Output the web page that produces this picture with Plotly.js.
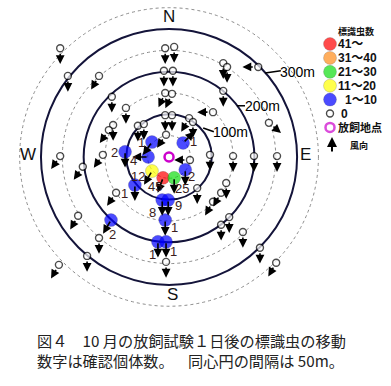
<!DOCTYPE html>
<html><head><meta charset="utf-8">
<script src="https://cdn.plot.ly/plotly-3.0.1.min.js"></script>
<style>html,body{margin:0;padding:0;background:#fff}#chart{width:391px;height:386px}</style>
</head><body><div id="chart"></div>
<script>
// trap positions (m, east / north of release point), marked insects found, wind arrow bearing (deg)
const trapX = [-9,12,-12,9,-9,7,-9,7,-7,47,56,33,103,127,127,136,209,234,
  -255,-237,-164,-134,-101,-131,-141,-73,-59,-40,
  -255,-155,-103,-49,-202,-124,-136,-213,-164,-192,-258,-80,
  -40,-14,12,38,49,
  -16,-2,-9,-26,-7,-7,
  96,150,199,253,66,134,122,103,141,122,173,213,251];
const trapY = [255,258,202,202,150,148,98,98,52,91,82,33,105,155,220,211,211,80,
  255,190,190,141,115,75,63,73,77,35,
  2,5,12,0,-23,-84,-148,-138,-190,-232,-253,-66,
  -33,-49,-49,-30,-7,
  -101,-101,-148,-199,-199,-246,
  5,2,2,2,-73,-61,-84,-105,-141,-159,-176,-213,-248];
const trapCount = [0,0,0,0,0,0,0,0,0,0,0,1,0,0,0,0,0,0,
  0,0,0,0,0,0,0,0,0,1,
  0,0,2,4,0,0,2,0,0,0,0,1,
  12,45,25,2,0,
  8,9,1,1,1,0,
  0,0,0,0,0,0,0,0,0,0,0,0,0];
const arrowDir = [180,180,180,180,205,205,180,180,215,210,180,45,270,180,180,180,270,130,
  180,180,210,180,180,180,215,180,180,215,
  215,215,180,270,215,215,210,210,180,180,210,180,
  210,200,180,180,270,
  180,180,180,180,180,180,
  180,180,180,180,180,180,210,210,180,180,180,180,210];
// label offsets in pixels (style only): index -> [dx, dy]
const labelShift = {11:[10,-1],27:[-10,0],30:[-11,1],31:[-15,4],34:[2,14],
  39:[-10,8],40:[-14,5],41:[-8,9],42:[8,11],43:[6,7],
  45:[-10,12],46:[10,5],47:[9,7],48:[-5,13],49:[7,10]};
const ringRadii = [50,100,150,200,250,300,350];
const ringLabels = ['100m','200m','300m'];
const legendLabels = ['41～','31～40','21～30','11～20','1～10','0','放飼地点'];
const legendColors = ['#ff0000','#ff8c1a','#11dd11','#ffff00','#0000ff','#ffffff','#ffffff'];

function colorFor(c){
  if(c>=41) return '#ff0000';
  if(c>=31) return '#ff8c1a';
  if(c>=21) return '#11dd11';
  if(c>=11) return '#ffff00';
  if(c>=1) return '#0000ff';
  return '#ffffff';
}

const ARROW_LEN = 37;
const shapes = ringRadii.map(r => ({
  type:'circle', xref:'x', yref:'y', x0:-r, x1:r, y0:-r, y1:r, layer:'below',
  line: (r%100===0) ? {color:'#14143a', width:2} : {color:'#8c8c8c', width:1, dash:'dot'}
}));
[[225,197,262,202],[159,120,178,120],[80,68,105,59]].forEach(l=>{
  shapes.push({type:'line',xref:'x',yref:'y',x0:l[0],y0:l[1],x1:l[2],y1:l[3],line:{color:'#000',width:1.5}});
});

const annotations = [];
trapX.forEach((x,i)=>{
  const b = arrowDir[i]*Math.PI/180;
  annotations.push({xref:'x',yref:'y',axref:'x',ayref:'y',
    ax:x, ay:trapY[i], x:x+ARROW_LEN*Math.sin(b), y:trapY[i]+ARROW_LEN*Math.cos(b),
    text:'', showarrow:true, arrowhead:2, arrowsize:1.1, arrowwidth:1.6, arrowcolor:'#000',
    startstandoff: trapCount[i]===0 ? 4 : 0, standoff:0});
});
trapCount.forEach((c,i)=>{
  if(c>0){
    const s = labelShift[i]||[10,0];
    annotations.push({xref:'x',yref:'y',x:trapX[i],y:trapY[i],xshift:s[0],yshift:-s[1],
      text:String(c),showarrow:false,borderpad:0,
      font:{family:'Liberation Sans, Arial',size:13,color:'#3a1c1c'}});
  }
});
const compass = [['N',0,330],['S',9,-323],['E',319,5],['W',-330,5]];
compass.forEach(c=>annotations.push({xref:'x',yref:'y',x:c[1],y:c[2],text:c[0],showarrow:false,
  font:{family:'Liberation Sans, Arial',size:17,color:'#111'}}));
const ringLabelPos = [[145,59],[218,120],[300,199]];
ringLabels.forEach((t,i)=>annotations.push({xref:'x',yref:'y',x:ringLabelPos[i][0],y:ringLabelPos[i][1],
  text:t,showarrow:false,font:{family:'Liberation Sans, Arial',size:14,color:'#000'}}));

// legend (pixel-coordinate overlay axis)
const legY = legendLabels.map((_,i)=>44+13.9*i);
annotations.push({xref:'x2',yref:'y2',x:356,y:31,text:'<b>標識虫数</b>',showarrow:false,
  font:{family:'Noto Sans CJK JP',size:9,color:'#111'}});
legendLabels.forEach((t,i)=>{
  let x = 336; if(i===4) x=343; if(i===5) x=339;
  annotations.push({xref:'x2',yref:'y2',x:x,y:legY[i],xanchor:'left',text:'<b>'+t+'</b>',showarrow:false,
    font:{family:'Liberation Sans, Noto Sans CJK JP',size:i===6?11:12,color:'#111'}});
});
annotations.push({xref:'x2',yref:'y2',axref:'x2',ayref:'y2',ax:332,ay:153,x:332,y:137,text:'',
  showarrow:true,arrowhead:2,arrowsize:1,arrowwidth:2,arrowcolor:'#000'});
annotations.push({xref:'x2',yref:'y2',x:348,y:145,xanchor:'left',text:'<b>風向</b>',showarrow:false,
  font:{family:'Noto Sans CJK JP',size:9,color:'#111'}});

// caption
annotations.push({xref:'paper',yref:'paper',x:35/391,y:1-349.5/386,xanchor:'left',yanchor:'middle',align:'left',
  text:'図４　10 月の放飼試験１日後の標識虫の移動<br>数字は確認個体数。　  同心円の間隔は 50m。',showarrow:false,
  font:{family:'Noto Sans CJK JP',size:15.2,color:'#222'}});

const traps = {
  type:'scatter', mode:'markers', x:trapX, y:trapY, xaxis:'x', yaxis:'y',
  marker:{size:trapCount.map(c=>c>0?13:7), color:trapCount.map(colorFor),
    line:{color:trapCount.map(c=>c>0?'rgba(0,0,0,0.35)':'#000'), width:trapCount.map(c=>c>0?0.6:1.4)}},
  hoverinfo:'skip', showlegend:false, cliponaxis:false
};
const release = {type:'scatter',mode:'markers',x:[0],y:[0],xaxis:'x',yaxis:'y',
  marker:{size:9,color:'#fff',line:{color:'#cc00cc',width:2.5}},showlegend:false,hoverinfo:'skip'};
const legendMarks = {type:'scatter',mode:'markers',xaxis:'x2',yaxis:'y2',
  x:legendLabels.map(()=>330), y:legY,
  marker:{size:legendLabels.map((_,i)=>i<5?13:(i===5?7:9)), color:legendColors,
    line:{color:legendLabels.map((_,i)=>i<5?'rgba(0,0,0,0.35)':(i===5?'#000':'#cc00cc')),
      width:legendLabels.map((_,i)=>i<5?0.6:(i===5?1.4:2.5))}},
  showlegend:false,hoverinfo:'skip'};

const layout = {
  width:391, height:386, margin:{l:0,r:0,t:0,b:0,pad:0},
  paper_bgcolor:'#fff', plot_bgcolor:'rgba(0,0,0,0)', showlegend:false,
  xaxis:{range:[-396,520],visible:false,showgrid:false,zeroline:false,fixedrange:true},
  yaxis:{range:[-537,368],visible:false,showgrid:false,zeroline:false,fixedrange:true},
  xaxis2:{range:[0,391],overlaying:'x',visible:false,anchor:'y2'},
  yaxis2:{range:[386,0],overlaying:'y',visible:false,anchor:'x2'},
  shapes:shapes, annotations:annotations
};
Plotly.newPlot('chart',[traps,release,legendMarks],layout,{staticPlot:true,displayModeBar:false});
</script></body></html>
